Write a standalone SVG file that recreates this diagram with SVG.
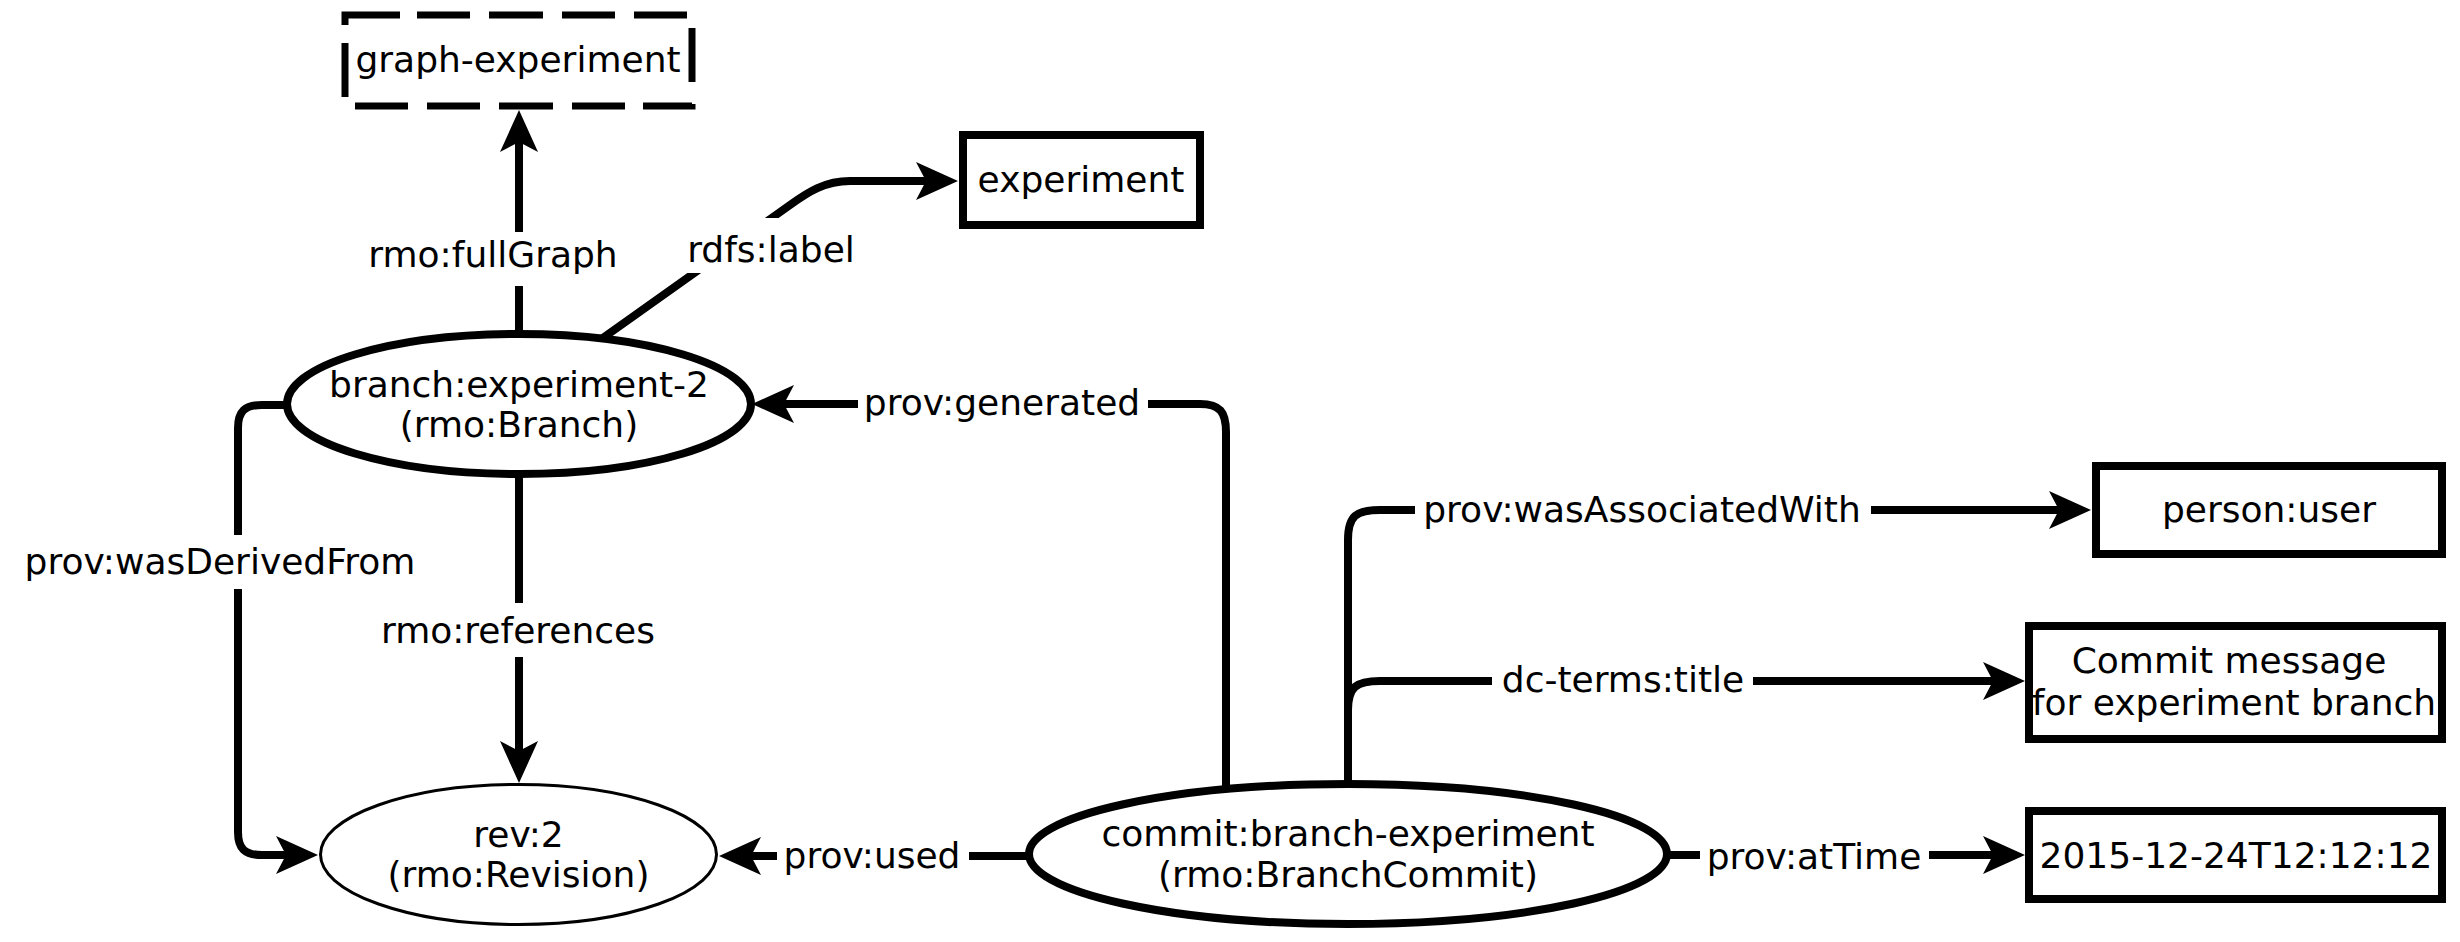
<svg xmlns="http://www.w3.org/2000/svg" width="2460" height="942" viewBox="0 0 2460 942">
<style>
text{font-family:"DejaVu Sans","Liberation Sans",sans-serif;font-size:36px;fill:#000;text-anchor:middle}
.edge{fill:none;stroke:#000;stroke-width:8}
.lbg{fill:#fff;stroke:none}
.node{fill:#fff;stroke:#000;stroke-width:8}
.thin{stroke-width:3}
</style>
<defs>
<marker id="arr" markerUnits="userSpaceOnUse" viewBox="-46 -24 50 48" refX="-32" refY="0" markerWidth="50" markerHeight="48" orient="auto" overflow="visible">
<path d="M0,0 L-42,-19 L-32,0 L-42,19 Z" fill="#000"/>
</marker>
</defs>
<rect width="2460" height="942" fill="#fff"/>
<g id="connectors">
<path class="edge" d="M519,340 V142" marker-end="url(#arr)"/>
<rect class="lbg" x="365" y="232" width="255" height="54"/>
<text x="493" y="267">rmo:fullGraph</text>
<path class="edge" d="M600,340 L790,205 C808,192 825,181 850,181 H926" marker-end="url(#arr)"/>
<rect class="lbg" x="686" y="218" width="170" height="55"/>
<text x="771" y="262">rdfs:label</text>
<path class="edge" d="M1226,795 V432 C1226,412 1220,404 1200,404 H784" marker-end="url(#arr)"/>
<rect class="lbg" x="858" y="380" width="290" height="50"/>
<text x="1002" y="415">prov:generated</text>
<path class="edge" d="M1348,795 V540 C1348,516 1356,510 1380,510 H2059" marker-end="url(#arr)"/>
<rect class="lbg" x="1415" y="486" width="456" height="50"/>
<text x="1642" y="522">prov:wasAssociatedWith</text>
<path class="edge" d="M1348,795 V710 C1348,687 1356,681 1380,681 H1993" marker-end="url(#arr)"/>
<rect class="lbg" x="1492" y="657" width="261" height="50"/>
<text x="1623" y="692">dc-terms:title</text>
<path class="edge" d="M1665,855 H1993" marker-end="url(#arr)"/>
<rect class="lbg" x="1700" y="831" width="229" height="50"/>
<text x="1814" y="869">prov:atTime</text>
<path class="edge" d="M1035,856 H751" marker-end="url(#arr)"/>
<rect class="lbg" x="777" y="832" width="192" height="50"/>
<text x="872" y="868">prov:used</text>
<path class="edge" d="M519,470 V751" marker-end="url(#arr)"/>
<rect class="lbg" x="378" y="603" width="282" height="54"/>
<text x="518" y="643">rmo:references</text>
<path class="edge" d="M292,405 H262 C245,405 238,411 238,428 V832 C238,849 245,855 262,855 H286" marker-end="url(#arr)"/>
<rect class="lbg" x="18" y="535" width="404" height="54"/>
<text x="220" y="574">prov:wasDerivedFrom</text>
</g>
<g id="node-graph-experiment">
<path d="M345,106 V15 H692 V106 Z" fill="none" stroke="#000" stroke-width="7" stroke-dasharray="0 9 54 18 65 17 53 19 54 19 53 19 53 18 54 22 51 18 53 19 54 19 53 19 53 10"/>
<text x="518" y="72">graph-experiment</text>
</g>
<g id="node-experiment">
<rect class="node" x="963" y="135" width="237" height="90"/>
<text x="1081" y="192">experiment</text>
</g>
<g id="node-branch">
<ellipse class="node" cx="519" cy="404" rx="232" ry="70"/>
<text x="519" y="397">branch:experiment-2</text>
<text x="519" y="437">(rmo:Branch)</text>
</g>
<g id="node-rev">
<ellipse class="node thin" cx="518.5" cy="854.5" rx="198" ry="70"/>
<text x="518.5" y="847">rev:2</text>
<text x="518.5" y="887">(rmo:Revision)</text>
</g>
<g id="node-commit">
<ellipse class="node" cx="1348" cy="854" rx="319" ry="70"/>
<text x="1348" y="846">commit:branch-experiment</text>
<text x="1348" y="887">(rmo:BranchCommit)</text>
</g>
<g id="node-person">
<rect class="node" x="2096" y="466" width="346" height="88"/>
<text x="2269" y="522">person:user</text>
</g>
<g id="node-title">
<rect class="node" x="2029" y="626" width="413" height="113"/>
<text x="2229" y="673">Commit message</text>
<text x="2234" y="715">for experiment branch</text>
</g>
<g id="node-time">
<rect class="node" x="2029" y="811" width="413" height="88"/>
<text x="2236" y="868">2015-12-24T12:12:12</text>
</g>
</svg>
